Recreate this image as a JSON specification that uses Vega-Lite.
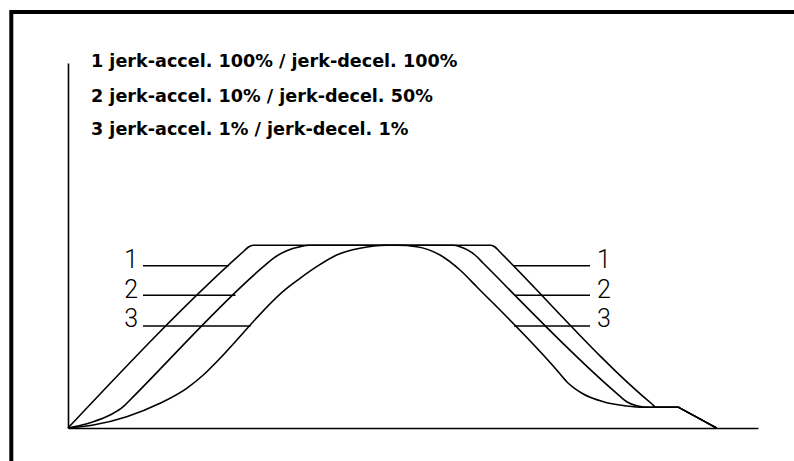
{
  "$schema": "https://vega.github.io/schema/vega-lite/v6.json",
  "width": 690,
  "height": 365,
  "autosize": {"type": "none"},
  "padding": {"left": 68, "top": 63, "right": 36, "bottom": 33},
  "background": "white",
  "config": {
    "view": {"stroke": null},
    "axis": {"domain": true, "domainColor": "black", "domainWidth": 1.6, "ticks": false, "labels": false, "grid": false, "title": null}
  },
  "datasets": {
    "curves": [
      {"curve": "1", "t": 0, "v": 0},
      {"curve": "1", "t": 176, "v": 177},
      {"curve": "1", "t": 180.5, "v": 181},
      {"curve": "1", "t": 185, "v": 182.7},
      {"curve": "1", "t": 423, "v": 182.7},
      {"curve": "1", "t": 427, "v": 181},
      {"curve": "1", "t": 431, "v": 177},
      {"curve": "1", "t": 584, "v": 24},
      {"curve": "1", "t": 588, "v": 20.7},
      {"curve": "1", "t": 610.5, "v": 20.7},
      {"curve": "1", "t": 612, "v": 19.9},
      {"curve": "1", "t": 648.5, "v": 0},

      {"curve": "2", "t": 0, "v": 0},
      {"curve": "2", "t": 12, "v": 2.5},
      {"curve": "2", "t": 25.3, "v": 6.3},
      {"curve": "2", "t": 42, "v": 13},
      {"curve": "2", "t": 55.3, "v": 21.3},
      {"curve": "2", "t": 62, "v": 28},
      {"curve": "2", "t": 195.3, "v": 161.3},
      {"curve": "2", "t": 205.3, "v": 169.7},
      {"curve": "2", "t": 218.7, "v": 177.3},
      {"curve": "2", "t": 232, "v": 181.3},
      {"curve": "2", "t": 242, "v": 182.7},
      {"curve": "2", "t": 385, "v": 182.7},
      {"curve": "2", "t": 392, "v": 181.3},
      {"curve": "2", "t": 407, "v": 173},
      {"curve": "2", "t": 415.3, "v": 164.7},
      {"curve": "2", "t": 548.7, "v": 34.7},
      {"curve": "2", "t": 558.7, "v": 26.3},
      {"curve": "2", "t": 568.7, "v": 22.3},
      {"curve": "2", "t": 582, "v": 20.7},
      {"curve": "2", "t": 610.5, "v": 20.7},
      {"curve": "2", "t": 612, "v": 19.9},
      {"curve": "2", "t": 648.5, "v": 0},

      {"curve": "3", "t": 0, "v": 0},
      {"curve": "3", "t": 25.3, "v": 3},
      {"curve": "3", "t": 58.7, "v": 11.3},
      {"curve": "3", "t": 92, "v": 24.7},
      {"curve": "3", "t": 118.7, "v": 39.7},
      {"curve": "3", "t": 135.3, "v": 53},
      {"curve": "3", "t": 148.7, "v": 66.3},
      {"curve": "3", "t": 218.7, "v": 139.7},
      {"curve": "3", "t": 232, "v": 149.7},
      {"curve": "3", "t": 248.7, "v": 161.3},
      {"curve": "3", "t": 268.7, "v": 173},
      {"curve": "3", "t": 292, "v": 179.7},
      {"curve": "3", "t": 318.7, "v": 182.7},
      {"curve": "3", "t": 328.7, "v": 182.7},
      {"curve": "3", "t": 348.7, "v": 181.3},
      {"curve": "3", "t": 372, "v": 173},
      {"curve": "3", "t": 392, "v": 158},
      {"curve": "3", "t": 408.7, "v": 141.3},
      {"curve": "3", "t": 488.7, "v": 58},
      {"curve": "3", "t": 498.7, "v": 46.3},
      {"curve": "3", "t": 515.3, "v": 34},
      {"curve": "3", "t": 535.3, "v": 26.3},
      {"curve": "3", "t": 558.7, "v": 22},
      {"curve": "3", "t": 575.3, "v": 20.7},
      {"curve": "3", "t": 610.5, "v": 20.7},
      {"curve": "3", "t": 612, "v": 19.9},
      {"curve": "3", "t": 648.5, "v": 0}
    ],
    "leaders": [
      {"curve": "1", "side": "left", "x1": 75, "x2": 161, "y": 162.3},
      {"curve": "2", "side": "left", "x1": 75, "x2": 167.5, "y": 132.7},
      {"curve": "3", "side": "left", "x1": 75, "x2": 182.6, "y": 102},
      {"curve": "1", "side": "right", "x1": 446, "x2": 522, "y": 162.3},
      {"curve": "2", "side": "right", "x1": 446, "x2": 522, "y": 132.7},
      {"curve": "3", "side": "right", "x1": 446, "x2": 522, "y": 102}
    ],
    "numbers": [
      {"label": "1", "side": "left", "x": 70, "y": 159.7},
      {"label": "2", "side": "left", "x": 70, "y": 130},
      {"label": "3", "side": "left", "x": 70, "y": 101},
      {"label": "1", "side": "right", "x": 529, "y": 159.7},
      {"label": "2", "side": "right", "x": 529, "y": 130},
      {"label": "3", "side": "right", "x": 529, "y": 101}
    ],
    "legend": [
      {"label": "1 jerk-accel. 100% / jerk-decel. 100%", "x": 23, "y": 361.3},
      {"label": "2 jerk-accel. 10% / jerk-decel. 50%", "x": 23, "y": 326.5},
      {"label": "3 jerk-accel. 1% / jerk-decel. 1%", "x": 23, "y": 293}
    ],
    "frame": [
      {"x1": -56.7, "x2": 745, "y1": -45, "y2": 416}
    ]
  },
  "layer": [
    {
      "data": {"name": "frame"},
      "mark": {"type": "rect", "fillOpacity": 0, "stroke": "black", "strokeWidth": 4, "clip": false},
      "encoding": {
        "x": {"field": "x1", "type": "quantitative", "scale": {"domain": [0, 690], "nice": false, "zero": false}},
        "x2": {"field": "x2"},
        "y": {"field": "y1", "type": "quantitative", "scale": {"domain": [0, 365], "nice": false, "zero": false}},
        "y2": {"field": "y2"}
      }
    },
    {
      "data": {"name": "curves"},
      "mark": {"type": "line", "interpolate": "monotone", "color": "black", "strokeWidth": 1.6},
      "encoding": {
        "x": {"field": "t", "type": "quantitative", "scale": {"domain": [0, 690], "nice": false, "zero": false}},
        "y": {"field": "v", "type": "quantitative", "scale": {"domain": [0, 365], "nice": false, "zero": false}},
        "detail": {"field": "curve", "type": "nominal"}
      }
    },
    {
      "data": {"name": "leaders"},
      "mark": {"type": "rule", "color": "black", "strokeWidth": 1.6},
      "encoding": {
        "x": {"field": "x1", "type": "quantitative", "scale": {"domain": [0, 690], "nice": false, "zero": false}},
        "x2": {"field": "x2"},
        "y": {"field": "y", "type": "quantitative", "scale": {"domain": [0, 365], "nice": false, "zero": false}}
      }
    },
    {
      "data": {"name": "numbers"},
      "transform": [{"filter": "datum.side == 'left'"}],
      "mark": {"type": "text", "align": "right", "baseline": "alphabetic", "font": "Roboto", "fontWeight": 300, "fontSize": 25, "color": "black"},
      "encoding": {
        "x": {"field": "x", "type": "quantitative", "scale": {"domain": [0, 690], "nice": false, "zero": false}},
        "y": {"field": "y", "type": "quantitative", "scale": {"domain": [0, 365], "nice": false, "zero": false}},
        "text": {"field": "label"}
      }
    },
    {
      "data": {"name": "numbers"},
      "transform": [{"filter": "datum.side == 'right'"}],
      "mark": {"type": "text", "align": "left", "baseline": "alphabetic", "font": "Roboto", "fontWeight": 300, "fontSize": 25, "color": "black"},
      "encoding": {
        "x": {"field": "x", "type": "quantitative", "scale": {"domain": [0, 690], "nice": false, "zero": false}},
        "y": {"field": "y", "type": "quantitative", "scale": {"domain": [0, 365], "nice": false, "zero": false}},
        "text": {"field": "label"}
      }
    },
    {
      "data": {"name": "legend"},
      "mark": {"type": "text", "align": "left", "baseline": "alphabetic", "font": "DejaVu Sans", "fontWeight": "bold", "fontSize": 17.6, "color": "black"},
      "encoding": {
        "x": {"field": "x", "type": "quantitative", "scale": {"domain": [0, 690], "nice": false, "zero": false}},
        "y": {"field": "y", "type": "quantitative", "scale": {"domain": [0, 365], "nice": false, "zero": false}},
        "text": {"field": "label"}
      }
    }
  ]
}
